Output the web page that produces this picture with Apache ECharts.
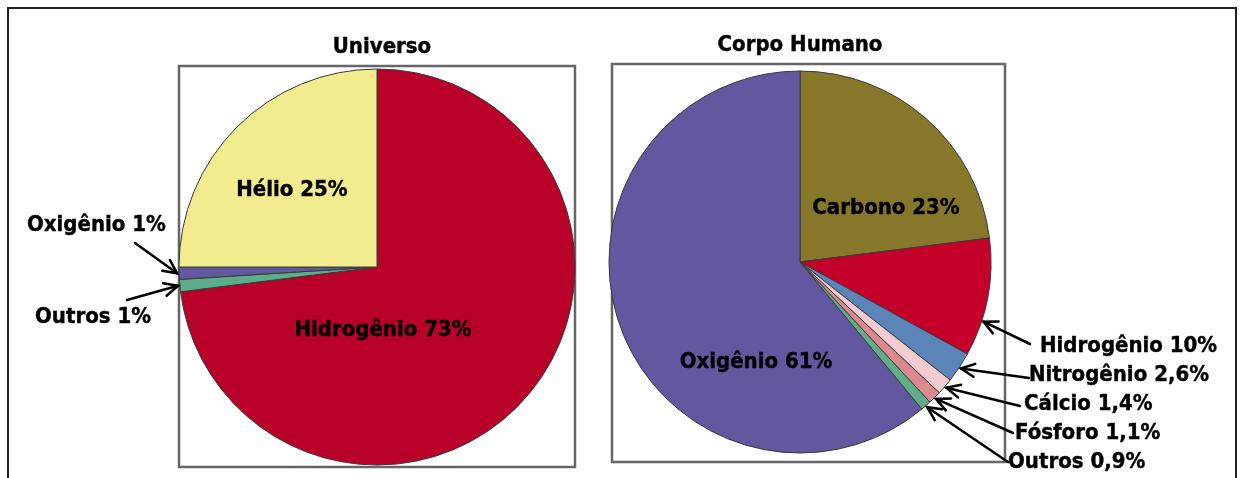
<!DOCTYPE html>
<html>
<head>
<meta charset="utf-8">
<script src="https://cdn.jsdelivr.net/npm/echarts@6/dist/echarts.min.js"></script>
<style>
html, body { margin: 0; padding: 0; background: #fff; }
#main { width: 1244px; height: 478px; }
</style>
</head>
<body>
<div id="main"></div>
<script>
// dados
var universoNames = ["Hidrogênio", "Outros", "Oxigênio", "Hélio"];
var universoValues = [73, 1, 1, 25];
var universoLabels = ["Hidrogênio 73%", "Outros 1%", "Oxigênio 1%", "Hélio 25%"];

var corpoNames = ["Carbono", "Hidrogênio", "Nitrogênio", "Cálcio", "Fósforo", "Outros", "Oxigênio"];
var corpoValues = [23, 10, 2.6, 1.4, 1.1, 0.9, 61];
var corpoLabels = ["Carbono 23%", "Hidrogênio 10%", "Nitrogênio 2,6%", "Cálcio 1,4%", "Fósforo 1,1%", "Outros 0,9%", "Oxigênio 61%"];

var titles = ["Universo", "Corpo Humano"];

// cores
var universoColors = ["#b80028", "#5aae8a", "#63579e", "#f2ec8e"];
var corpoColors = ["#86772a", "#c4002a", "#5b85b8", "#f2cccf", "#de8890", "#5fae88", "#63579f"];

var font = "'DejaVu Sans Condensed', 'DejaVu Sans', sans-serif";

// layout
var pieL = { cx: 377, cy: 267, r: 198 };
var pieR = { cx: 800, cy: 262, r: 191 };

// posicao dos rotulos: [x, y, align]
var universoLabelPos = [[383, 330, "center"], [35, 317, "left"], [27, 225, "left"], [292, 190, "center"]];
var corpoLabelPos = [[886, 208, "center"], [1040, 346, "left"], [1029, 375, "left"], [1024, 404, "left"],
	[1015, 433, "left"], [1008, 462, "left"], [756, 362, "center"]];

// setas: indice da fatia, origem da seta, fracao do angulo dentro da fatia
var universoArrows = [[1, 127, 300, 0.5], [2, 135, 243, 0.5]];
var corpoArrows = [[1, 1030, 344, 0.7], [2, 1029, 378, 0.5], [3, 1020, 406, 0.5], [4, 1013, 433, 0.5], [5, 1008, 462, 0.5]];

function tipPoint(pie, values, idx, frac) {
	var total = 0, before = 0;
	for (var i = 0; i < values.length; i++) {
		total += values[i];
		if (i < idx) before += values[i];
	}
	var ang = (before + frac * values[idx]) / total * 2 * Math.PI;
	var rr = pie.r + 2;
	return [pie.cx + rr * Math.sin(ang), pie.cy - rr * Math.cos(ang)];
}

function arrow(x1, y1, x2, y2) {
	var a = Math.atan2(y2 - y1, x2 - x1), L = 15, s = 0.45;
	var st = { stroke: "#000", lineWidth: 2.5, fill: null, lineCap: "round", lineJoin: "miter" };
	return [{
		type : "line", z : 20,
		shape : { x1 : x1, y1 : y1, x2 : x2, y2 : y2 },
		style : st
	}, {
		type : "polyline", z : 20,
		shape : { points : [ [ x2 - L * Math.cos(a - s), y2 - L * Math.sin(a - s) ], [ x2, y2 ],
			[ x2 - L * Math.cos(a + s), y2 - L * Math.sin(a + s) ] ] },
		style : st
	}];
}

function buildData(names, values, labels, colors) {
	var out = [];
	for (var i = 0; i < names.length; i++) {
		out.push({ name : names[i], value : values[i], label : { formatter : labels[i] }, itemStyle : { color : colors[i] } });
	}
	return out;
}

function pieSeries(pie, names, values, labels, colors, pos) {
	return {
		type : "pie",
		center : [ pie.cx, pie.cy ],
		radius : pie.r,
		startAngle : 90,
		clockwise : true,
		avoidLabelOverlap : false,
		silent : true,
		itemStyle : { borderColor : "#3a3a3a", borderWidth : 1 },
		label : {
			show : true,
			position : "outside",
			color : "#000",
			fontFamily : font,
			fontWeight : "bold",
			fontSize : 22,
			textBorderColor : "#000",
			textBorderWidth : 0.4
		},
		labelLine : { show : false },
		labelLayout : function(p) {
			var q = pos[p.dataIndex];
			return { x : q[0], y : q[1], align : q[2], verticalAlign : "middle" };
		},
		data : buildData(names, values, labels, colors)
	};
}

var graphics = [{
	type : "rect", z : 0,
	shape : { x : 8, y : 8, width : 1228, height : 490 },
	style : { fill : "#fff", stroke : "#222", lineWidth : 2 }
}, {
	type : "rect", z : 1,
	shape : { x : 179, y : 66, width : 396, height : 401 },
	style : { fill : "#fff", stroke : "#666", lineWidth : 2.5 }
}, {
	type : "rect", z : 1,
	shape : { x : 612, y : 64, width : 393, height : 398 },
	style : { fill : "#fff", stroke : "#666", lineWidth : 2.5 }
}];

universoArrows.forEach(function(a) {
	var t = tipPoint(pieL, universoValues, a[0], a[3]);
	graphics = graphics.concat(arrow(a[1], a[2], t[0], t[1]));
});
corpoArrows.forEach(function(a) {
	var t = tipPoint(pieR, corpoValues, a[0], a[3]);
	graphics = graphics.concat(arrow(a[1], a[2], t[0], t[1]));
});

var titleStyle = { fontFamily : font, fontWeight : "bold", fontSize : 22, color : "#000", textBorderColor : "#000", textBorderWidth : 0.4 };

var chart = echarts.init(document.getElementById("main"));
chart.setOption({
	animation : false,
	backgroundColor : "#fff",
	title : [ {
		text : titles[0], left : 377, top : 31, textAlign : "center", textStyle : titleStyle
	}, {
		text : titles[1], left : 795, top : 29, textAlign : "center", textStyle : titleStyle
	} ],
	graphic : { elements : graphics },
	series : [
		pieSeries(pieL, universoNames, universoValues, universoLabels, universoColors, universoLabelPos),
		pieSeries(pieR, corpoNames, corpoValues, corpoLabels, corpoColors, corpoLabelPos)
	]
});
</script>
</body>
</html>
